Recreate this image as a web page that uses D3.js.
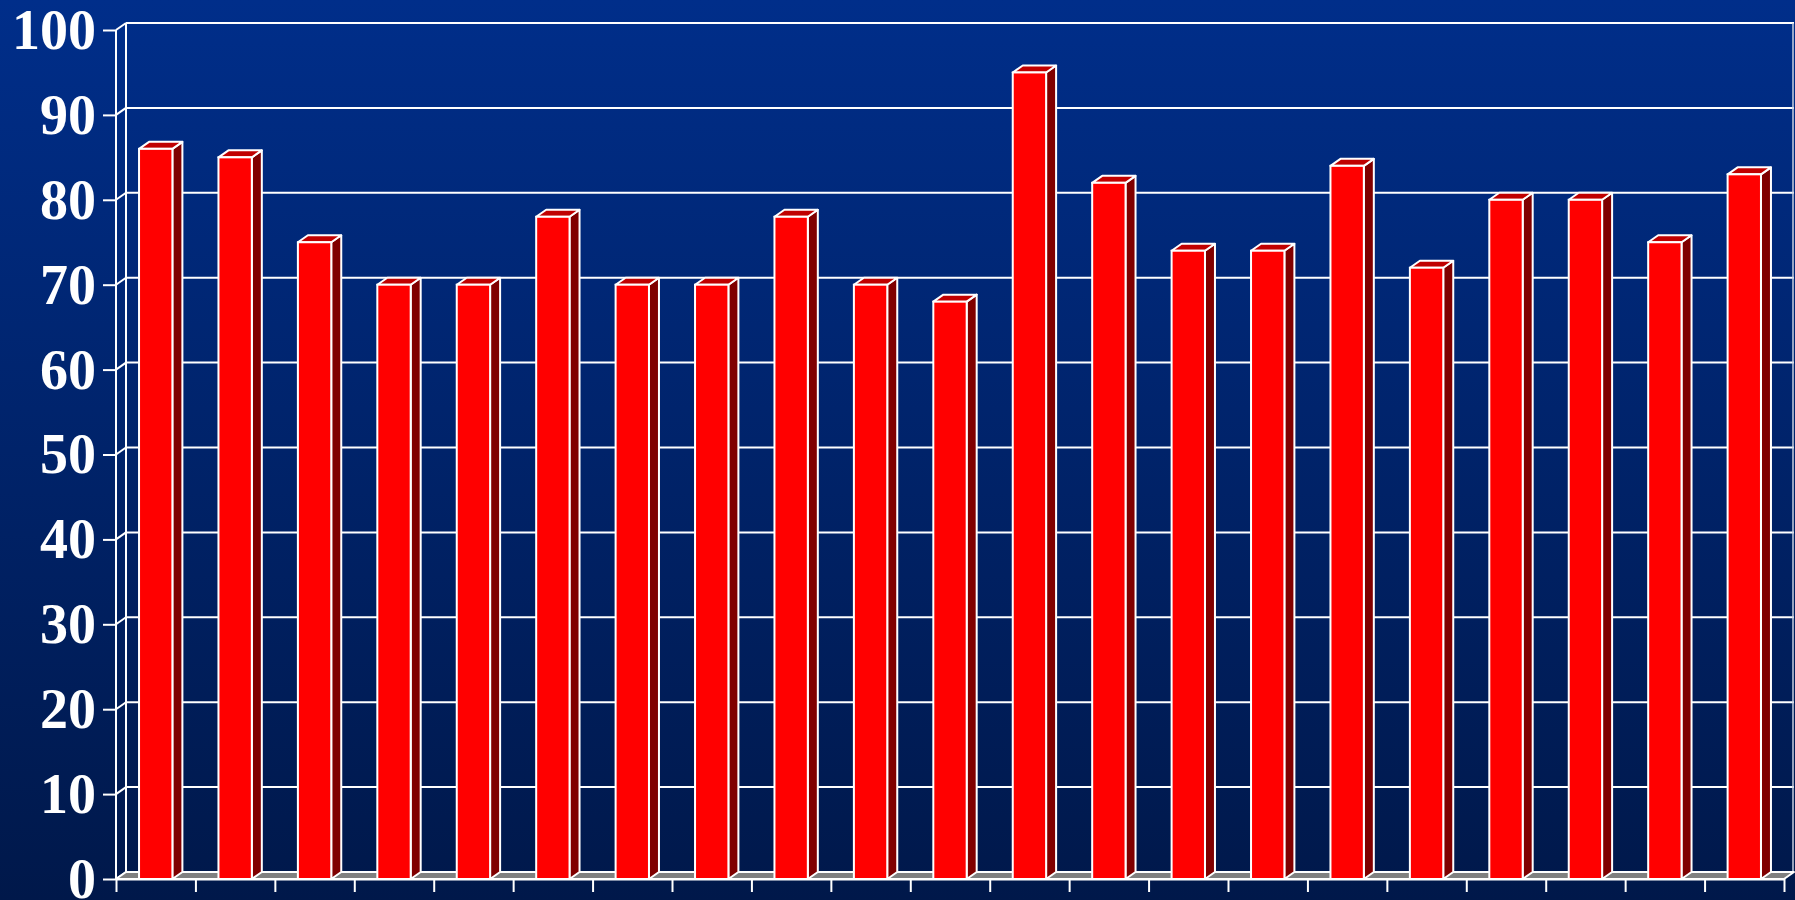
<!DOCTYPE html>
<html>
<head>
<meta charset="utf-8">
<script src="https://cdn.jsdelivr.net/npm/d3@7"></script>
<style>
    body { margin: 0; background: #001a4b; }
    svg { display: block; }
</style>
</head>
<body>
<div id="chart"></div>
<script>
// chart data
const categories = d3.range(1, 22).map(d => "B" + d);
const values = [86, 85, 75, 70, 70, 78, 70, 70, 78, 70, 68, 95, 82, 74, 74, 84, 72, 80, 80, 75, 83];
const yTicks = [0, 10, 20, 30, 40, 50, 60, 70, 80, 90, 100];

const width = 1795, height = 900;
// front plane of the box and the depth offset to the back wall
const front = { left: 116, right: 1784, top: 30, bottom: 879 };
const depth = { dx: 10, dy: -7 };

const svg = d3.select("#chart").append("svg")
    .attr("width", width)
    .attr("height", height);

// background gradient
const grad = svg.append("defs").append("linearGradient")
    .attr("id", "bg")
    .attr("x1", 0).attr("y1", 0).attr("x2", 0).attr("y2", 1);
grad.append("stop").attr("offset", "0%").attr("stop-color", "#002e8a");
grad.append("stop").attr("offset", "100%").attr("stop-color", "#00184a");

svg.append("rect")
    .attr("width", width)
    .attr("height", height)
    .attr("fill", "url(#bg)");

const xScale = d3.scaleBand()
    .domain(categories)
    .range([front.left, front.right])
    .padding(0);

const yScale = d3.scaleLinear()
    .domain([0, 100])
    .range([front.bottom, front.top]);

// linear scale for ticks between categories
const xTickScale = d3.scaleLinear()
    .domain([0, categories.length])
    .range([front.left, front.right]);

const line = "#ffffff";

// back wall gridlines
svg.append("g").selectAll("line")
    .data(yTicks)
    .join("line")
    .attr("x1", front.left + depth.dx)
    .attr("x2", front.right + depth.dx)
    .attr("y1", d => yScale(d) + depth.dy)
    .attr("y2", d => yScale(d) + depth.dy)
    .attr("stroke", line)
    .attr("stroke-width", 2);

// left wall diagonals
svg.append("g").selectAll("line")
    .data(yTicks)
    .join("line")
    .attr("x1", front.left)
    .attr("x2", front.left + depth.dx)
    .attr("y1", d => yScale(d))
    .attr("y2", d => yScale(d) + depth.dy)
    .attr("stroke", line)
    .attr("stroke-width", 2);

// wall edges
svg.append("line")
    .attr("x1", front.left + depth.dx).attr("x2", front.left + depth.dx)
    .attr("y1", yScale(100) + depth.dy).attr("y2", yScale(0) + depth.dy)
    .attr("stroke", line).attr("stroke-width", 2);
svg.append("line")
    .attr("x1", front.right + depth.dx - 1).attr("x2", front.right + depth.dx - 1)
    .attr("y1", yScale(100) + depth.dy).attr("y2", yScale(0) + depth.dy)
    .attr("stroke", "#c8d0e0").attr("stroke-width", 1.5);

// floor
const fy = yScale(0);
svg.append("polygon")
    .attr("points", [
        [front.left, fy], [front.right, fy],
        [front.right + depth.dx, fy + depth.dy], [front.left + depth.dx, fy + depth.dy]
    ].join(" "))
    .attr("fill", "#808080")
    .attr("stroke", line)
    .attr("stroke-width", 2)
    .attr("stroke-linejoin", "round");

// bars
const barW = xScale.bandwidth() * 0.42;
const bars = svg.append("g").selectAll("g")
    .data(values)
    .join("g");

const bx = (d, i) => xScale(categories[i]) + (xScale.bandwidth() - barW) / 2;

// side face
bars.append("polygon")
    .attr("points", (d, i) => {
        const x = bx(d, i) + barW, yt = yScale(d), yb = yScale(0);
        return [[x, yt], [x + depth.dx, yt + depth.dy], [x + depth.dx, yb + depth.dy], [x, yb]].join(" ");
    })
    .attr("fill", "#800000")
    .attr("stroke", line)
    .attr("stroke-width", 2)
    .attr("stroke-linejoin", "round");

// top face
bars.append("polygon")
    .attr("points", (d, i) => {
        const x = bx(d, i), yt = yScale(d);
        return [[x, yt], [x + barW, yt], [x + barW + depth.dx, yt + depth.dy], [x + depth.dx, yt + depth.dy]].join(" ");
    })
    .attr("fill", "#c00000")
    .attr("stroke", line)
    .attr("stroke-width", 2)
    .attr("stroke-linejoin", "round");

// front face
bars.append("rect")
    .attr("x", (d, i) => bx(d, i))
    .attr("y", d => yScale(d))
    .attr("width", barW)
    .attr("height", d => yScale(0) - yScale(d))
    .attr("fill", "#ff0000")
    .attr("stroke", line)
    .attr("stroke-width", 2);

// y axis
const yAxis = d3.axisLeft(yScale)
    .tickValues(yTicks)
    .tickSize(13)
    .tickPadding(7)
    .tickFormat(d3.format("d"));

const yAxisG = svg.append("g")
    .attr("transform", `translate(${front.left},0)`)
    .call(yAxis);
yAxisG.select(".domain").remove();
yAxisG.selectAll("line").attr("stroke", line).attr("stroke-width", 2);
yAxisG.selectAll("text")
    .attr("fill", "#ffffff")
    .attr("dy", "0.33em")
    .style("font-family", "'Liberation Serif', 'Times New Roman', serif")
    .style("font-weight", "bold")
    .style("font-size", "56px");

// front vertical axis line
svg.append("line")
    .attr("x1", front.left).attr("x2", front.left)
    .attr("y1", yScale(100)).attr("y2", yScale(0))
    .attr("stroke", line).attr("stroke-width", 2);

// x axis ticks between categories
const xAxis = d3.axisBottom(xTickScale)
    .tickValues(d3.range(0, categories.length + 1))
    .tickSize(13)
    .tickSizeOuter(0)
    .tickFormat("");

const xAxisG = svg.append("g")
    .attr("transform", `translate(0,${yScale(0)})`)
    .call(xAxis);
xAxisG.select(".domain").attr("stroke", line).attr("stroke-width", 2);
xAxisG.selectAll("line").attr("stroke", line).attr("stroke-width", 2);
</script>
</body>
</html>
